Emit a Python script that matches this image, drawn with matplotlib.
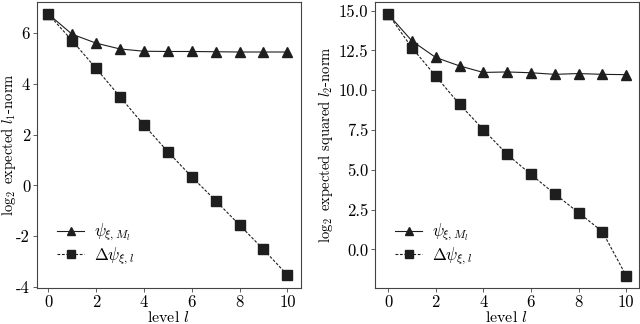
import numpy as np
import matplotlib
matplotlib.use("Agg")
import matplotlib.pyplot as plt

plt.rcParams['font.family'] = 'serif'
plt.rcParams['font.serif'] = ['cmr10', 'DejaVu Serif']
plt.rcParams['mathtext.fontset'] = 'cm'
plt.rcParams['axes.unicode_minus'] = False
plt.rcParams['axes.formatter.use_mathtext'] = False

levels = np.arange(11)

# left panel: log2 expected l1-norm
l1_psi = [6.75, 5.95, 5.6, 5.37, 5.28, 5.27, 5.27, 5.26, 5.25, 5.25, 5.25]
l1_delta = [6.75, 5.7, 4.61, 3.49, 2.38, 1.33, 0.34, -0.6, -1.56, -2.52, -3.53]

# right panel: log2 expected squared l2-norm
l2_psi = [14.79, 13.1, 12.06, 11.53, 11.12, 11.15, 11.1, 11.0, 11.05, 11.0, 10.98]
l2_delta = [14.79, 12.67, 10.89, 9.12, 7.53, 5.97, 4.71, 3.49, 2.31, 1.12, -1.65]

lab_psi = r'$\psi_{\xi,M_l}$'
lab_delta = r'$\Delta\psi_{\xi,l}$'
col = '#1e1e1e'

fig = plt.figure(figsize=(6.4, 3.24), dpi=100)
ax1 = fig.add_axes([0.058, 0.111, 0.412, 0.883])
ax2 = fig.add_axes([0.586, 0.111, 0.412, 0.883])


def draw(ax, psi, delta, ylabel, label_x):
    ax.plot(levels, psi, '-', color=col, lw=0.8, marker='^', ms=7.5,
            mfc=col, mec=col, label=lab_psi)
    ax.plot(levels, delta, color=col, lw=0.8, ls=(0, (2.5, 1.5)), marker='s',
            ms=7, mfc=col, mec=col, label=lab_delta)
    ax.set_xlabel(r'level $l$', fontsize=11.5, labelpad=0)
    ax.set_ylabel(ylabel, fontsize=10.5)
    ax.yaxis.set_label_coords(label_x, 0.5)
    ax.set_xticks([0, 2, 4, 6, 8, 10])
    ax.tick_params(labelsize=12, length=3, width=0.6, color='#444444', pad=2)
    for s in ax.spines.values():
        s.set_linewidth(0.8)
        s.set_color('#444444')
    leg = ax.legend(loc='lower left', bbox_to_anchor=(0.02, 0.02), frameon=False,
                    fontsize=12, handlelength=1.6, labelspacing=0.15,
                    markerscale=0.85, handletextpad=0.6)
    return leg


draw(ax1, l1_psi, l1_delta, r'$\log_2$ expected $l_1$-norm', -0.072)
ax1.set_xlim(-0.46, 10.56)
ax1.set_ylim(-4.04, 7.22)
ax1.set_yticks([-4, -2, 0, 2, 4, 6])

draw(ax2, l2_psi, l2_delta, r'$\log_2$ expected squared $l_2$-norm', -0.15)
ax2.set_xlim(-0.55, 10.53)
ax2.set_ylim(-2.43, 15.55)
ax2.set_yticks([0, 2.5, 5, 7.5, 10, 12.5, 15])
ax2.set_yticklabels(['0.0', '2.5', '5.0', '7.5', '10.0', '12.5', '15.0'])

fig.savefig('out.png', dpi=100)
